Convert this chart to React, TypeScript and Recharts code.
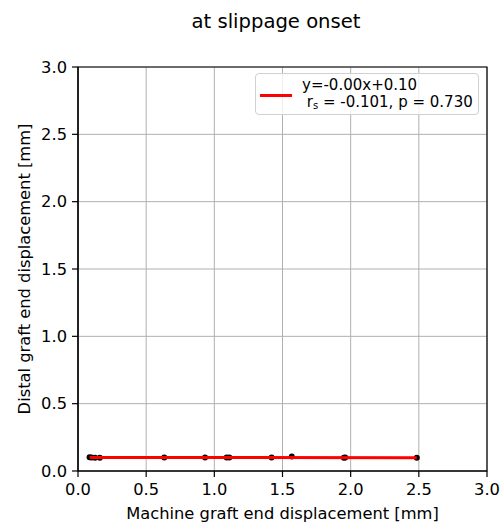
import {
  ScatterChart,
  Scatter,
  XAxis,
  YAxis,
  CartesianGrid,
  ReferenceArea,
  Label,
} from "recharts";

const FONT = "DejaVu Sans";

// measured points (machine vs distal graft end displacement, mm)
const machineDisp = [0.085, 0.1, 0.125, 0.16, 0.633, 0.932, 1.09, 1.11, 1.42, 1.568, 1.95, 1.96, 2.485];
const distalDisp = [0.103, 0.1, 0.099, 0.099, 0.1, 0.1, 0.1, 0.1, 0.1, 0.108, 0.099, 0.1, 0.098];

// regression line end points
const fitX = [0.085, 2.485];
const fitY = [0.101, 0.099];

const axisTicks = [0, 0.5, 1.0, 1.5, 2.0, 2.5, 3.0];

const title = "at slippage onset";
const xLabel = "Machine graft end displacement [mm]";
const yLabel = "Distal graft end displacement [mm]";
const fitLabel = "y=-0.00x+0.10";
const statsLabel = { r: "-0.101", p: "0.730" };

const points = machineDisp.map((x, i) => ({ x, y: distalDisp[i] }));
const fitLine = fitX.map((x, i) => ({ x, y: fitY[i] }));

const tickStyle = { fill: "#000", fontSize: 16.3, fontFamily: FONT };

const Dot = (props: any) => <circle cx={props.cx} cy={props.cy} r={3} fill="#000" />;

const App = () => {
  return (
    <div style={{ position: "absolute", left: 0, top: 0, width: 501, height: 525, background: "#fff" }}>
      <svg width={501} height={40} style={{ position: "absolute", left: 0, top: 0 }}>
        <text x={276} y={28.3} textAnchor="middle" fontSize={19.6} fontFamily={FONT} fill="#000">
          {title}
        </text>
      </svg>
      <ScatterChart width={501} height={525} margin={{ top: 67, right: 14, bottom: 0, left: 0 }}>
        <CartesianGrid stroke="#b0b0b0" strokeWidth={1} />
        <XAxis
          type="number"
          dataKey="x"
          domain={[0, 3]}
          ticks={axisTicks}
          tickFormatter={(v) => v.toFixed(1)}
          height={54}
          tickSize={6}
          tickMargin={6}
          tick={tickStyle}
          axisLine={{ stroke: "#000", strokeWidth: 1.2 }}
          tickLine={{ stroke: "#000", strokeWidth: 1.2 }}
          allowDataOverflow
        >
          <Label
            content={() => (
              <text x={282.5} y={518.5} textAnchor="middle" fontSize={16.3} fontFamily={FONT} fill="#000">
                {xLabel}
              </text>
            )}
          />
        </XAxis>
        <YAxis
          type="number"
          dataKey="y"
          domain={[0, 3]}
          ticks={axisTicks}
          tickFormatter={(v) => v.toFixed(1)}
          width={78}
          tickSize={6}
          tickMargin={5}
          tick={tickStyle}
          axisLine={{ stroke: "#000", strokeWidth: 1.2 }}
          tickLine={{ stroke: "#000", strokeWidth: 1.2 }}
          allowDataOverflow
        >
          <Label
            content={() => (
              <text
                x={30}
                y={269}
                textAnchor="middle"
                fontSize={16.3}
                fontFamily={FONT}
                fill="#000"
                transform="rotate(-90, 30, 269)"
              >
                {yLabel}
              </text>
            )}
          />
        </YAxis>
        {/* black frame round the plot area */}
        <ReferenceArea x1={0} x2={3} y1={0} y2={3} fill="none" stroke="#000" strokeWidth={1.2} fillOpacity={0} />
        <Scatter data={points} shape={Dot} isAnimationActive={false} />
        <Scatter
          data={fitLine}
          fill="#ff0000"
          line={{ stroke: "#ff0000", strokeWidth: 3 }}
          shape={() => null}
          isAnimationActive={false}
        />
      </ScatterChart>

      {/* legend box */}
      <div
        style={{
          position: "absolute",
          left: 255,
          top: 73,
          width: 224,
          height: 42,
          boxSizing: "border-box",
          border: "1px solid #d0d0d0",
          borderRadius: 4,
          background: "rgba(255,255,255,0.8)",
          fontFamily: FONT,
          fontSize: 15,
          color: "#000",
        }}
      >
        <div style={{ position: "absolute", left: 4, top: 19.5, width: 32, height: 3, background: "#ff0000" }} />
        <div style={{ position: "absolute", left: 46, top: 2.7, lineHeight: "17px", whiteSpace: "pre" }}>
          {fitLabel}
        </div>
        <div style={{ position: "absolute", left: 46, top: 19.7, lineHeight: "17px", whiteSpace: "pre" }}>
          {" r"}
          <span style={{ fontSize: 10, verticalAlign: "-2px" }}>s</span>
          {` = ${statsLabel.r}, p = ${statsLabel.p}`}
        </div>
      </div>
    </div>
  );
};

export default App;
